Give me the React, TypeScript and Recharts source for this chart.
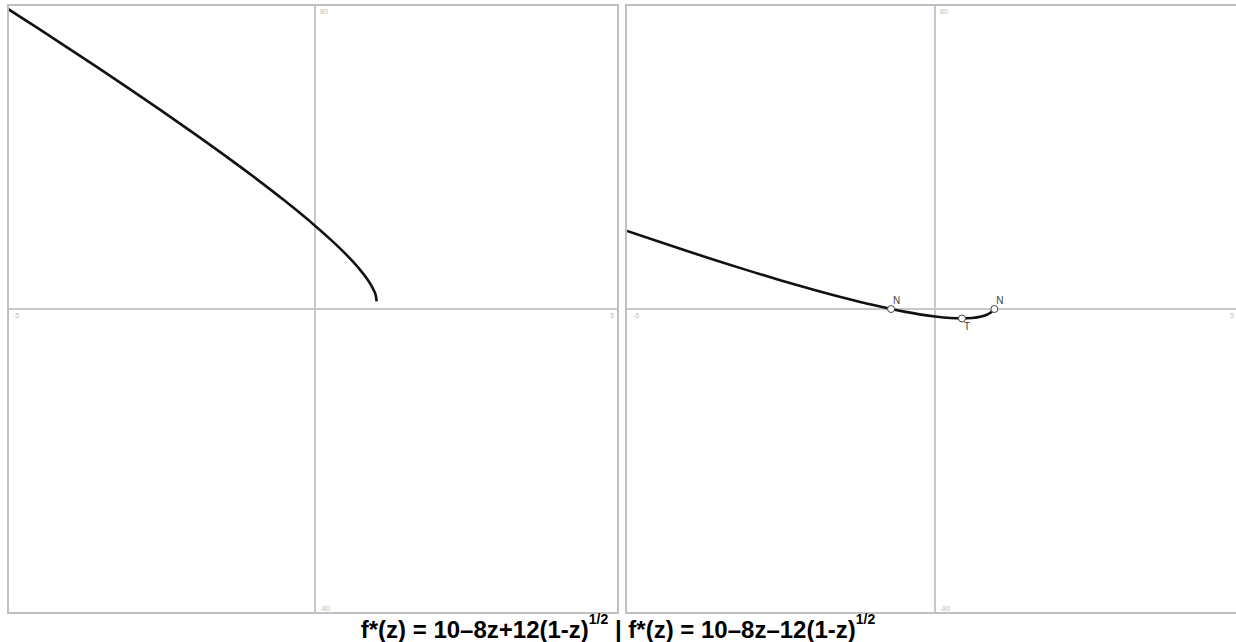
import { LineChart, Line, XAxis, YAxis, ReferenceLine, ReferenceDot } from 'recharts'

// z values and f*(z)
const zPlus = [-5, -4.5, -4, -3.5, -3, -2.5, -2, -1.5, -1, -0.5, 0, 0.25, 0.5, 0.7, 0.85, 0.95, 0.99, 1]
const fPlus = [79.39, 74.14, 68.83, 63.46, 58, 52.45, 46.78, 40.97, 34.97, 28.7, 22, 18.39, 14.49, 10.97, 7.85, 5.08, 3.28, 2]

const zMinus = [-5, -4.5, -4, -3.5, -3, -2.5, -2, -1.5, -1, -0.7135, -0.5, 0, 0.25, 0.4375, 0.6, 0.75, 0.85, 0.9, 0.9635]
const fMinus = [20.61, 17.86, 15.17, 12.54, 10, 7.55, 5.22, 3.03, 1.03, 0, -0.7, -2, -2.39, -2.5, -2.39, -2, -1.45, -0.99, 0]

// special points on the right panel
const markX = [-0.7135, 0.4375, 0.9635]
const markY = [0, -2.5, 0]
const markLabel = ['N', 'T', 'N']

const xTicks = [-5, 5]
const yTicks = [80, -80]

const W = 616
const H = 606
const axisColor = '#c8c8c8'
const tickColor = '#bdbdbd'
const font = 'Liberation Sans, Arial, sans-serif'

function TickText({ cx, cy, text, dx, dy }: any) {
  return (
    <text x={cx + dx} y={cy + dy} fontSize={7} fill={tickColor} fontFamily={font}>
      {text}
    </text>
  )
}

function Mark({ cx, cy, label }: any) {
  const below = label === 'T'
  return (
    <g>
      <circle cx={cx} cy={cy} r={3.5} fill="#fff" stroke="#444" strokeWidth={1} />
      <text x={cx + 2} y={below ? cy + 12 : cy - 5} fontSize={10} fill="#444" fontFamily={font}>
        {label}
      </text>
    </g>
  )
}

function Panel({ z, f, marks }: { z: number[]; f: number[]; marks: boolean }) {
  const data = z.map((v, i) => ({ z: v, f: f[i] }))
  return (
    <LineChart width={W} height={H} data={data} margin={{ top: 0, right: 0, left: 0, bottom: 0 }}>
      <XAxis type="number" dataKey="z" domain={[-5, 5]} hide />
      <YAxis type="number" domain={[-80, 80]} hide />
      <ReferenceLine x={0} stroke={axisColor} strokeWidth={2} />
      <ReferenceLine y={0} stroke={axisColor} strokeWidth={2} />
      {xTicks.map((t) => (
        <ReferenceDot
          key={'x' + t}
          x={t}
          y={0}
          r={0}
          shape={(p: any) => <TickText {...p} text={String(t)} dx={t < 0 ? 6 : -13} dy={9} />}
        />
      ))}
      {yTicks.map((t) => (
        <ReferenceDot
          key={'y' + t}
          x={0}
          y={t}
          r={0}
          shape={(p: any) => <TickText {...p} text={String(t)} dx={5} dy={t > 0 ? 8 : -1} />}
        />
      ))}
      <Line type="monotone" dataKey="f" stroke="#111" strokeWidth={2.6} dot={false} isAnimationActive={false} />
      {marks &&
        markX.map((mx, i) => (
          <ReferenceDot
            key={'m' + i}
            x={mx}
            y={markY[i]}
            r={3.5}
            shape={(p: any) => <Mark {...p} label={markLabel[i]} />}
          />
        ))}
    </LineChart>
  )
}

const boxStyle = (left: number, width: number): React.CSSProperties => ({
  position: 'absolute',
  left,
  top: 4,
  width,
  height: 610,
  border: '2px solid #c0c0c0',
  boxSizing: 'border-box',
  overflow: 'hidden',
  background: '#fff',
})

export default function App() {
  return (
    <div style={{ position: 'absolute', left: 0, top: 0, width: 1236, height: 642, background: '#fff', overflow: 'hidden' }}>
      <div style={boxStyle(7, 612)}>
        <div style={{ position: 'absolute', left: -2, top: 0 }}>
          <Panel z={zPlus} f={fPlus} marks={false} />
        </div>
      </div>
      <div style={boxStyle(625, 620)}>
        <div style={{ position: 'absolute', left: 0, top: 0 }}>
          <Panel z={zMinus} f={fMinus} marks={true} />
        </div>
      </div>
      <svg width={1236} height={642} style={{ position: 'absolute', left: 0, top: 0, pointerEvents: 'none' }}>
        <text x={618} y={638} textAnchor="middle" fontFamily={font} fontWeight="bold" fontSize={24} fill="#000">
          <tspan>f*(z) = 10–8z+12(1-z)</tspan>
          <tspan fontSize={14} dy={-14}>1/2</tspan>
          <tspan dy={14}> | f*(z) = 10–8z–12(1-z)</tspan>
          <tspan fontSize={14} dy={-14}>1/2</tspan>
        </text>
      </svg>
    </div>
  )
}
